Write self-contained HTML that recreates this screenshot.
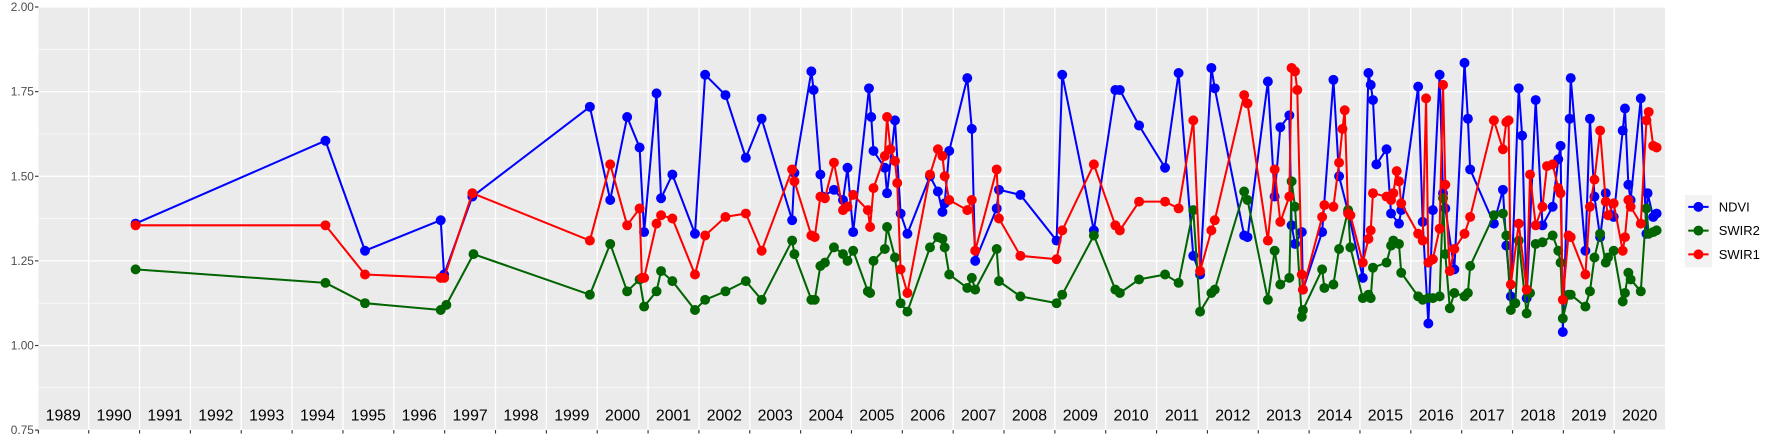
<!DOCTYPE html>
<html><head><meta charset="utf-8"><style>
html,body{margin:0;padding:0;background:#fff;}
svg{display:block;font-family:"Liberation Sans",sans-serif;}
</style></head><body>
<svg id="s" width="1773" height="442" viewBox="0 0 1569 391" preserveAspectRatio="none" xmlns="http://www.w3.org/2000/svg">
<rect x="34" y="6.2" width="1439.5" height="374.3" fill="#ebebeb"/>
<g id="grid" stroke="#fff" fill="none"></g>
<g id="ticks" stroke="#333" stroke-width="1"></g>
<g font-size="10.5" fill="#4d4d4d" text-anchor="end">
<text x="30" y="9.8">2.00</text>
<text x="30" y="84.6">1.75</text>
<text x="30" y="159.5">1.50</text>
<text x="30" y="234.3">1.25</text>
<text x="30" y="309.1">1.00</text>
<text x="30" y="384">0.75</text>
</g>
<g font-size="14" fill="#000" text-anchor="middle">
<text x="56" y="372">1989</text><text x="101" y="372">1990</text><text x="146" y="372">1991</text><text x="191" y="372">1992</text>
<text x="236" y="372">1993</text><text x="281" y="372">1994</text><text x="326" y="372">1995</text><text x="371" y="372">1996</text>
<text x="416" y="372">1997</text><text x="461" y="372">1998</text><text x="506" y="372">1999</text><text x="551" y="372">2000</text>
<text x="596" y="372">2001</text><text x="641" y="372">2002</text><text x="686" y="372">2003</text><text x="731" y="372">2004</text>
<text x="776" y="372">2005</text><text x="821" y="372">2006</text><text x="866" y="372">2007</text><text x="911" y="372">2008</text>
<text x="956" y="372">2009</text><text x="1001" y="372">2010</text><text x="1046" y="372">2011</text><text x="1091" y="372">2012</text>
<text x="1136" y="372">2013</text><text x="1181" y="372">2014</text><text x="1226" y="372">2015</text><text x="1271" y="372">2016</text>
<text x="1316" y="372">2017</text><text x="1361" y="372">2018</text><text x="1406" y="372">2019</text><text x="1451" y="372">2020</text>
</g>
<g id="data"></g>
<rect x="1491" y="172.5" width="24" height="64" fill="#f2f2f2"/>
<g stroke-width="1.8">
<line x1="1494" y1="183" x2="1512" y2="183" stroke="#0000ff"/><circle cx="1503" cy="183" r="4.4" fill="#0000ff"/>
<line x1="1494" y1="204" x2="1512" y2="204" stroke="#006400"/><circle cx="1503" cy="204" r="4.4" fill="#006400"/>
<line x1="1494" y1="225" x2="1512" y2="225" stroke="#ff0000"/><circle cx="1503" cy="225" r="4.4" fill="#ff0000"/>
</g>
<g font-size="11.5" fill="#000">
<text x="1521" y="187">NDVI</text><text x="1521" y="208">SWIR2</text><text x="1521" y="229">SWIR1</text>
</g>
</svg>
<script>
var NS="http://www.w3.org/2000/svg";
function Y(v){return 6.2+(2-v)/1.25*374.3;}
function el(p,n,a){var e=document.createElementNS(NS,n);for(var k in a)e.setAttribute(k,a[k]);p.appendChild(e);return e;}
var g=document.getElementById('grid'),t=document.getElementById('ticks');
[1.875,1.625,1.375,1.125,0.875].forEach(function(v){el(g,'line',{x1:34,x2:1473.5,y1:Y(v),y2:Y(v),'stroke-width':0.6});});
[2,1.75,1.5,1.25,1,0.75].forEach(function(v){el(g,'line',{x1:34,x2:1473.5,y1:Y(v),y2:Y(v),'stroke-width':1.2});el(t,'line',{x1:31,x2:34,y1:Y(v),y2:Y(v)});});
for(var i=1;i<32;i++){var x=33.5+i*45;el(g,'line',{x1:x,x2:x,y1:6.2,y2:380.5,'stroke-width':1.2});el(t,'line',{x1:x,x2:x,y1:380.5,y2:383.5});}
el(t,'line',{x1:34,x2:34,y1:380.5,y2:383.5});
var ND=[[120,1.36],[288,1.605],[323,1.28],[390,1.37],[393,1.21],[418,1.44],[522,1.705],[540,1.43],[555,1.675],[566,1.585],[570,1.335],[581,1.745],[585,1.435],[595,1.505],[615,1.33],[624,1.80],[642,1.74],[660,1.555],[674,1.67],[701,1.37],[703,1.51],[718,1.81],[720,1.755],[726,1.505],[728,1.44],[738,1.46],[746,1.43],[750,1.525],[755,1.335],[769,1.76],[771,1.675],[773,1.575],[783,1.525],[785,1.45],[792,1.665],[797,1.39],[803,1.33],[823,1.50],[830,1.455],[834,1.395],[836,1.42],[840,1.575],[856,1.79],[860,1.64],[863,1.25],[882,1.405],[884,1.46],[903,1.445],[935,1.31],[940,1.80],[968,1.34],[987,1.755],[991,1.755],[1008,1.65],[1031,1.525],[1043,1.805],[1056,1.265],[1062,1.21],[1072,1.82],[1075,1.76],[1101,1.325],[1104,1.32],[1122,1.78],[1128,1.44],[1133,1.645],[1141,1.68],[1143,1.355],[1146,1.30],[1152,1.335],[1153,1.165],[1170,1.335],[1180,1.785],[1185,1.50],[1193,1.395],[1206,1.20],[1211,1.805],[1213,1.77],[1215,1.725],[1218,1.535],[1227,1.58],[1231,1.39],[1238,1.36],[1240,1.40],[1255,1.765],[1259,1.365],[1264,1.065],[1268,1.40],[1274,1.80],[1277,1.45],[1279,1.405],[1287,1.225],[1296,1.835],[1299,1.67],[1301,1.52],[1322,1.36],[1330,1.46],[1333,1.295],[1337,1.145],[1344,1.76],[1347,1.62],[1351,1.14],[1359,1.725],[1365,1.355],[1374,1.41],[1379,1.55],[1381,1.59],[1383,1.04],[1389,1.67],[1390,1.79],[1403,1.28],[1407,1.67],[1411,1.44],[1416,1.32],[1421,1.45],[1428,1.38],[1436,1.635],[1438,1.70],[1441,1.475],[1443,1.43],[1452,1.73],[1457,1.33],[1458,1.45],[1463,1.38],[1466,1.39]];
var S2=[[120,1.225],[288,1.185],[323,1.125],[390,1.105],[395,1.12],[419,1.27],[522,1.15],[540,1.30],[555,1.16],[566,1.195],[570,1.115],[581,1.16],[585,1.22],[595,1.19],[615,1.105],[624,1.135],[642,1.16],[660,1.19],[674,1.135],[701,1.31],[703,1.27],[718,1.135],[721,1.135],[726,1.235],[730,1.245],[738,1.29],[746,1.27],[750,1.25],[755,1.28],[768,1.16],[770,1.155],[773,1.25],[783,1.285],[785,1.35],[792,1.26],[797,1.125],[803,1.10],[823,1.29],[830,1.32],[834,1.315],[836,1.29],[840,1.21],[856,1.17],[860,1.20],[863,1.165],[882,1.285],[884,1.19],[903,1.145],[935,1.125],[940,1.15],[968,1.325],[987,1.165],[991,1.155],[1008,1.195],[1031,1.21],[1043,1.185],[1056,1.40],[1062,1.10],[1072,1.155],[1075,1.165],[1101,1.455],[1104,1.43],[1122,1.135],[1128,1.28],[1133,1.18],[1141,1.20],[1143,1.485],[1146,1.41],[1152,1.085],[1153,1.105],[1170,1.225],[1172,1.17],[1180,1.18],[1185,1.285],[1193,1.40],[1195,1.29],[1206,1.14],[1211,1.15],[1213,1.14],[1215,1.23],[1227,1.245],[1231,1.295],[1233,1.31],[1238,1.30],[1240,1.215],[1255,1.145],[1259,1.135],[1264,1.14],[1268,1.14],[1274,1.145],[1277,1.435],[1279,1.27],[1283,1.11],[1287,1.155],[1296,1.145],[1299,1.155],[1301,1.235],[1322,1.385],[1330,1.39],[1333,1.325],[1337,1.105],[1341,1.125],[1344,1.31],[1351,1.095],[1354,1.155],[1359,1.30],[1365,1.305],[1374,1.325],[1379,1.28],[1381,1.245],[1383,1.08],[1388,1.15],[1390,1.15],[1403,1.115],[1407,1.16],[1411,1.26],[1416,1.33],[1421,1.245],[1423,1.26],[1428,1.28],[1436,1.13],[1438,1.155],[1441,1.215],[1443,1.195],[1452,1.16],[1457,1.405],[1459,1.33],[1463,1.335],[1466,1.34]];
var S1=[[120,1.355],[288,1.355],[323,1.21],[390,1.20],[393,1.20],[418,1.45],[522,1.31],[540,1.535],[555,1.355],[566,1.405],[568,1.20],[570,1.20],[581,1.36],[585,1.385],[595,1.375],[615,1.21],[624,1.325],[642,1.38],[660,1.39],[674,1.28],[701,1.52],[703,1.485],[718,1.325],[721,1.32],[726,1.44],[730,1.435],[738,1.54],[746,1.40],[750,1.41],[755,1.445],[768,1.40],[770,1.35],[773,1.465],[783,1.56],[785,1.675],[788,1.58],[792,1.545],[794,1.48],[797,1.225],[803,1.155],[823,1.505],[830,1.58],[834,1.56],[836,1.50],[840,1.43],[856,1.40],[860,1.43],[863,1.28],[882,1.52],[884,1.375],[903,1.265],[935,1.255],[940,1.34],[968,1.535],[987,1.355],[991,1.34],[1008,1.425],[1031,1.425],[1043,1.405],[1056,1.665],[1062,1.22],[1072,1.34],[1075,1.37],[1101,1.74],[1104,1.715],[1122,1.31],[1128,1.52],[1133,1.365],[1141,1.44],[1143,1.82],[1146,1.81],[1148,1.755],[1152,1.21],[1153,1.165],[1170,1.38],[1172,1.415],[1180,1.41],[1185,1.54],[1188,1.64],[1190,1.695],[1193,1.39],[1195,1.385],[1206,1.245],[1211,1.315],[1213,1.34],[1215,1.45],[1227,1.44],[1231,1.43],[1233,1.45],[1236,1.515],[1238,1.485],[1240,1.42],[1255,1.33],[1259,1.31],[1262,1.73],[1264,1.245],[1268,1.255],[1274,1.345],[1277,1.77],[1279,1.475],[1283,1.22],[1287,1.285],[1296,1.33],[1301,1.38],[1322,1.665],[1330,1.58],[1333,1.66],[1335,1.665],[1337,1.18],[1344,1.36],[1351,1.165],[1354,1.505],[1359,1.355],[1365,1.41],[1369,1.53],[1374,1.535],[1379,1.465],[1381,1.45],[1383,1.135],[1388,1.325],[1390,1.32],[1403,1.21],[1407,1.41],[1411,1.49],[1416,1.635],[1421,1.425],[1423,1.385],[1428,1.42],[1436,1.28],[1438,1.32],[1441,1.43],[1443,1.41],[1452,1.36],[1457,1.665],[1459,1.69],[1463,1.59],[1466,1.585]];
var d=document.getElementById('data');
[[ND,'#0000ff'],[S2,'#006400'],[S1,'#ff0000']].forEach(function(s){
 var pts=s[0].map(function(p){return p[0]+','+Y(p[1]).toFixed(1);}).join(' ');
 el(d,'polyline',{points:pts,fill:'none',stroke:s[1],'stroke-width':1.8,'stroke-linejoin':'round'});
 s[0].forEach(function(p){el(d,'circle',{cx:p[0],cy:Y(p[1]).toFixed(1),r:4.4,fill:s[1]});});
});
</script>
</body></html>
